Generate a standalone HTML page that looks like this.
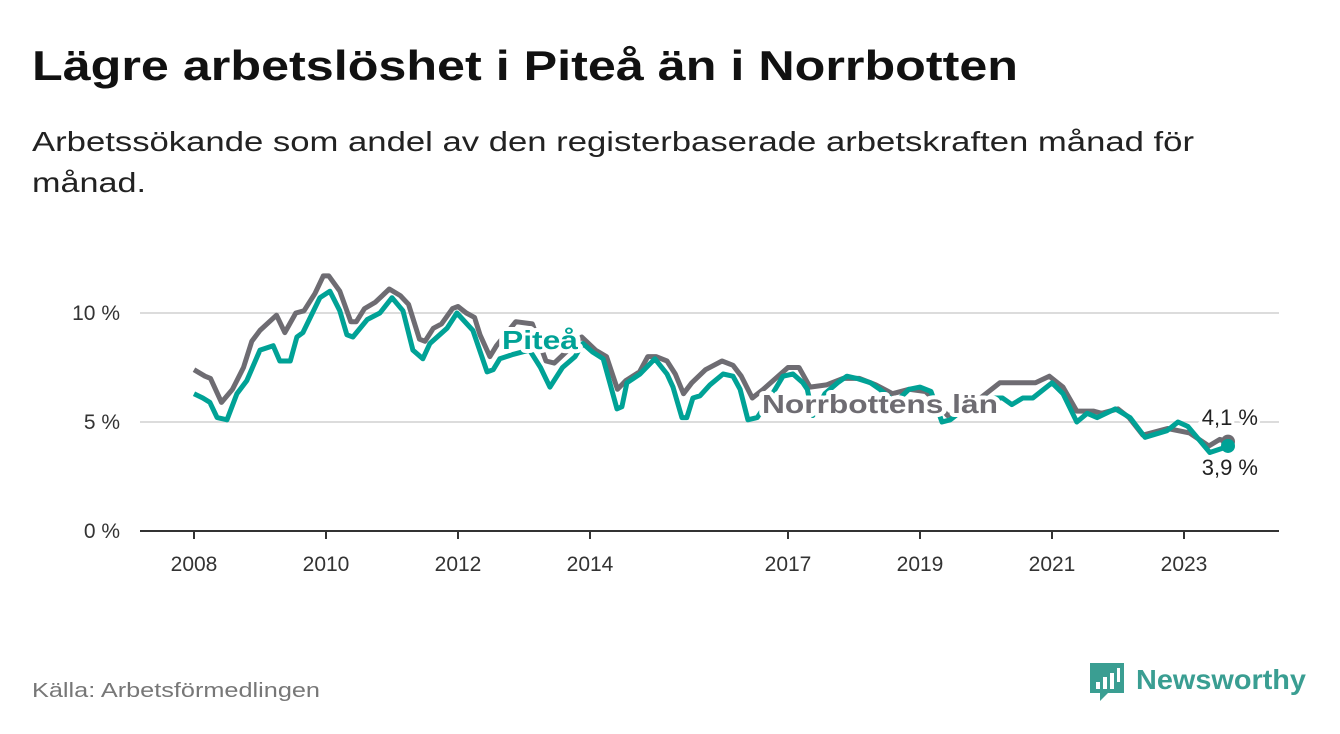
<!DOCTYPE html>
<html><head><meta charset="utf-8"><style>
html,body{margin:0;padding:0;background:#fff;}
svg{display:block;font-family:"Liberation Sans",sans-serif;}
</style></head><body>
<svg id="chart" width="1340" height="734" viewBox="0 0 1340 734" xmlns="http://www.w3.org/2000/svg">
<text x="32" y="80" font-size="42" font-weight="bold" fill="#111" textLength="986" lengthAdjust="spacingAndGlyphs">Lägre arbetslöshet i Piteå än i Norrbotten</text>
<text x="32" y="151" font-size="28" fill="#222" textLength="1162" lengthAdjust="spacingAndGlyphs">Arbetssökande som andel av den registerbaserade arbetskraften månad för</text>
<text x="32" y="192" font-size="28" fill="#222" textLength="114" lengthAdjust="spacingAndGlyphs">månad.</text>
<g id="grid"></g>
<g id="xaxis"></g>
<g id="series"></g>
<text x="32" y="697" font-size="20" fill="#777" textLength="288" lengthAdjust="spacingAndGlyphs">Källa: Arbetsförmedlingen</text>
<g>
<path d="M1090 663 h34 v30 h-16 l-8 8 v-8 h-10 z" fill="#3a9e92"/>
<rect x="1096" y="682" width="4" height="7" fill="#fff"/>
<rect x="1103" y="677" width="4" height="12" fill="#fff"/>
<rect x="1110" y="673" width="4" height="16" fill="#fff"/>
<rect x="1117" y="668" width="3" height="14" fill="#fff"/>
<text x="1136" y="689" font-size="28" font-weight="bold" fill="#3a9e92" textLength="170" lengthAdjust="spacingAndGlyphs">Newsworthy</text>
</g>
</svg>
<script>
const yTicks = [0, 5, 10];
const yTickLabels = ["0 %", "5 %", "10 %"];
const xTickMonths = [0, 24, 48, 72, 108, 132, 156, 180];
const xTickLabels = ["2008", "2010", "2012", "2014", "2017", "2019", "2021", "2023"];
const norrMonths = [0,2,3,5,7,9,10.5,12,15,16.5,18.5,20,22,23.5,24.5,26.5,28.5,29.5,31,33,35.5,37.5,39,41,42,43.5,45,47,48,49.5,51,52,53.8,55,58.5,61.5,64,65.5,70.5,73,75,77,78.5,81,82.5,84,86,87.5,89,90.5,93,96,98,99.5,101.5,103.5,108,110,112,115,118,121,124,127,130,133,135,137,140,143,146.5,148.5,153,155.5,158,160.5,163.5,165,168,170,172.5,177,181,184.5,186.5,188];
const norrValues = [7.4,7.1,7.0,5.9,6.5,7.5,8.7,9.2,9.9,9.1,10.0,10.1,10.9,11.7,11.7,11.0,9.6,9.6,10.2,10.5,11.1,10.8,10.4,8.8,8.7,9.3,9.5,10.2,10.3,10.0,9.8,9.0,8.0,8.5,9.6,9.5,7.8,7.7,8.9,8.3,8.0,6.5,6.9,7.3,8.0,8.0,7.8,7.2,6.3,6.8,7.4,7.8,7.6,7.1,6.1,6.5,7.5,7.5,6.6,6.7,7.0,7.0,6.7,6.3,6.5,6.4,5.9,5.3,5.5,6.1,6.8,6.8,6.8,7.1,6.6,5.5,5.5,5.4,5.6,5.2,4.4,4.7,4.5,3.9,4.2,4.1];
const piteaMonths = [0,1.6,2.9,4.2,6,7.8,9.6,12,14.4,15.6,17.5,18.7,19.8,22.9,24.7,26.5,27.8,28.9,31.5,33.8,36,38,39.8,41.6,42.9,46,47.8,50.7,53.3,54.4,55.6,58,61,63,64.7,67,69.3,70.7,72.5,74.4,76.9,77.8,78.7,81.1,83.8,86,87.1,88.7,89.6,90.7,92,93.8,96.2,98,99.3,100.7,102.4,104,107.1,108.9,110.7,111.5,112.5,114.7,117,118.7,120.5,123,124.7,127.5,130,132,134,136,137.5,140,144,147,148.7,150.7,152.5,156,158,160.5,162.4,164.2,167.5,170.2,172.9,176.9,178.9,180.7,184.7,187,188];
const piteaValues = [6.3,6.1,5.9,5.2,5.1,6.3,6.9,8.3,8.5,7.8,7.8,8.9,9.1,10.7,11.0,10.1,9.0,8.9,9.7,10.0,10.7,10.1,8.3,7.9,8.6,9.3,10.0,9.2,7.3,7.4,7.9,8.1,8.3,7.5,6.6,7.5,8.0,8.6,8.2,7.9,5.6,5.7,6.8,7.2,7.9,7.2,6.6,5.2,5.2,6.1,6.2,6.7,7.2,7.1,6.5,5.1,5.2,5.8,7.1,7.2,6.8,6.5,5.3,6.3,6.8,7.1,7.0,6.8,6.5,5.9,6.5,6.6,6.4,5.0,5.1,5.6,6.1,6.1,5.8,6.1,6.1,6.8,6.3,5.0,5.4,5.2,5.6,5.2,4.3,4.6,5.0,4.8,3.6,3.8,3.9];

const NS="http://www.w3.org/2000/svg";
const x0=194, pxPerMonth=5.5, yBase=531, pxPerPct=21.8;
function xs(m){return x0+m*pxPerMonth;}
function ys(v){return yBase-v*pxPerPct;}
function mk(tag,attrs,parent,text){const e=document.createElementNS(NS,tag);for(const k in attrs)e.setAttribute(k,attrs[k]);if(text!==undefined)e.textContent=text;parent.appendChild(e);return e;}
const grid=document.getElementById('grid'), xa=document.getElementById('xaxis'), ser=document.getElementById('series');
yTicks.forEach((t,i)=>{
  const l=mk('line',{x1:140,x2:1279,y1:ys(t),y2:ys(t),stroke:t===0?'#333':'#dcdcdc','stroke-width':2},grid);
  
  
  const tx=mk('text',{x:120,y:ys(t)+7,'font-size':21,fill:'#333','text-anchor':'end'},grid,yTickLabels[i]);
  
  
});
xTickMonths.forEach((m,i)=>{
  const l=mk('line',{x1:xs(m),x2:xs(m),y1:yBase,y2:yBase+8,stroke:'#333','stroke-width':2},xa);
  
  
  const tx=mk('text',{x:xs(m),y:yBase+40,'font-size':21,fill:'#333','text-anchor':'middle'},xa,xTickLabels[i]);
  
  
});
function pathD(ms,vs){return ms.map((m,i)=>(i?'L':'M')+xs(m).toFixed(1)+' '+ys(vs[i]).toFixed(1)).join(' ');}
const gp=mk('path',{d:pathD(norrMonths,norrValues),fill:'none',stroke:'#6e6c72','stroke-width':5,'stroke-linejoin':'round'},ser);


const tp=mk('path',{d:pathD(piteaMonths,piteaValues),fill:'none',stroke:'#00a296','stroke-width':5,'stroke-linejoin':'round'},ser);


const gn=norrMonths.length-1, pn=piteaMonths.length-1;
const gd=mk('circle',{cx:xs(norrMonths[gn]),cy:ys(norrValues[gn]),r:7,fill:'#6e6c72'},ser);


const pd=mk('circle',{cx:xs(piteaMonths[pn]),cy:ys(piteaValues[pn]),r:7,fill:'#00a296'},ser);


const l1=mk('text',{x:502,y:349,'font-size':26,'font-weight':'bold',fill:'#00a296',stroke:'#fff','stroke-width':8,'paint-order':'stroke','stroke-linejoin':'round',textLength:76,lengthAdjust:'spacingAndGlyphs'},ser,'Piteå');


const l2=mk('text',{x:762,y:413,'font-size':26,'font-weight':'bold',fill:'#6e6c72',stroke:'#fff','stroke-width':8,'paint-order':'stroke','stroke-linejoin':'round',textLength:236,lengthAdjust:'spacingAndGlyphs'},ser,'Norrbottens län');


const v1=mk('text',{x:1258,y:425,'font-size':22,fill:'#222','text-anchor':'end',stroke:'#fff','stroke-width':6,'paint-order':'stroke'},ser,'4,1 %');


const v2=mk('text',{x:1258,y:475,'font-size':22,fill:'#222','text-anchor':'end',stroke:'#fff','stroke-width':6,'paint-order':'stroke'},ser,'3,9 %');


</script>
</body></html>
